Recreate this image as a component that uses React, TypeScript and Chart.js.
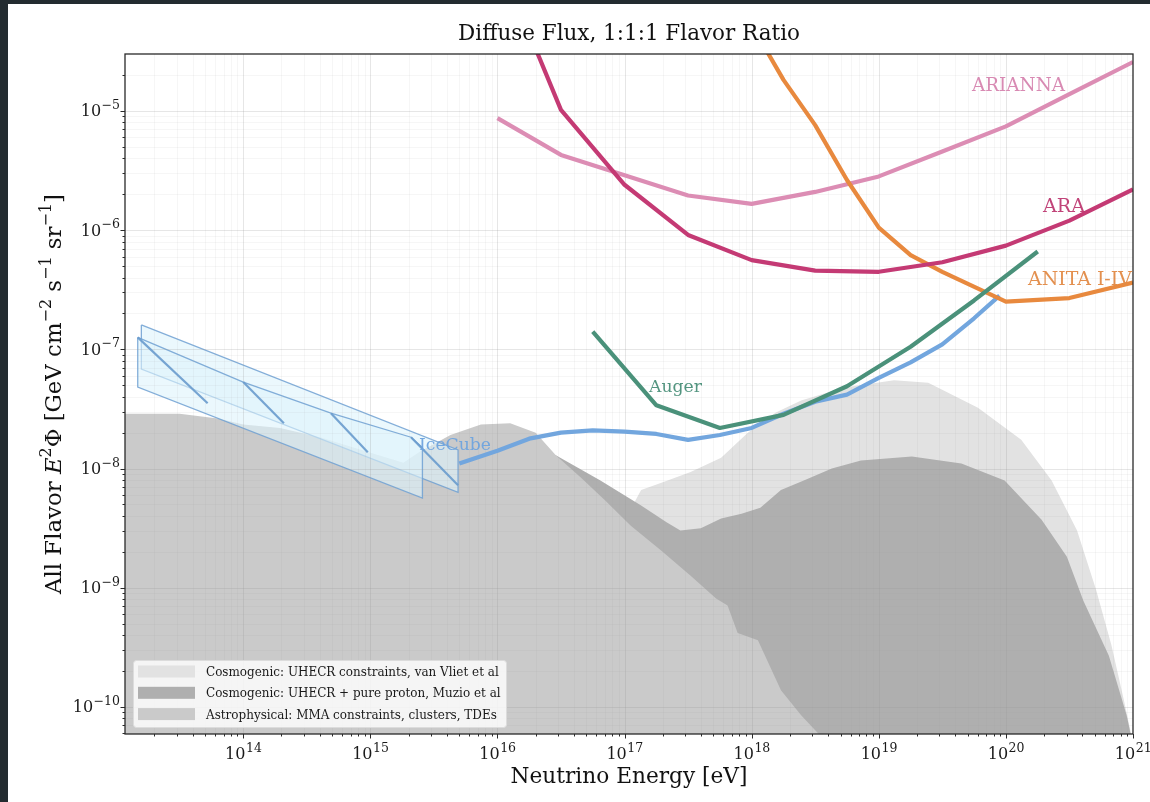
import React, { useEffect, useRef } from "react";
import { Chart, registerables } from "chart.js";

Chart.register(...registerables);

// ---------------- axes ----------------
const xRange = [1.175e13, 1e21];
const yRange = [5.93e-11, 3.0e-5];
const xTickExponents = [14, 15, 16, 17, 18, 19, 20, 21];
const yTickExponents = [-10, -9, -8, -7, -6, -5];
const xGridDecades = [13, 14, 15, 16, 17, 18, 19, 20, 21];
const yGridDecades = [-11, -10, -9, -8, -7, -6, -5];
const minorMultipliers = [2, 3, 4, 5, 6, 7, 8, 9];

// ---------------- texts ----------------
const titleText = "Diffuse Flux, 1:1:1 Flavor Ratio";
const xAxisTitle = "Neutrino Energy [eV]";
const legendLabels = [
  "Cosmogenic: UHECR constraints, van Vliet et al",
  "Cosmogenic: UHECR + pure proton, Muzio et al",
  "Astrophysical: MMA constraints, clusters, TDEs",
];

// ---------------- shaded model regions ----------------
const lightE = [1.2e17, 1.35e17, 1.95e17, 3.31e17, 5.75e17, 9.33e17, 1.55e18, 2.45e18, 5.37e18, 1.32e19, 2.45e19, 6.03e19, 1.32e20, 2.29e20, 3.63e20, 5.13e20, 6.76e20, 8.51e20, 1e21];
const lightF = [5.25e-9, 6.61e-9, 7.59e-9, 9.33e-9, 1.23e-8, 2.0e-8, 2.95e-8, 3.72e-8, 4.79e-8, 5.5e-8, 5.25e-8, 3.24e-8, 1.74e-8, 7.94e-9, 3.02e-9, 9.55e-10, 3.31e-10, 1.12e-10, 5.01e-11];

const darkE = [2.0e16, 2.88e16, 6.46e16, 1.35e17, 2.14e17, 2.75e17, 3.98e17, 5.75e17, 8.32e17, 1.17e18, 1.7e18, 2.57e18, 4.27e18, 7.24e18, 1.82e19, 4.47e19, 9.77e19, 1.91e20, 3.02e20, 4.07e20, 6.46e20, 8.91e20, 1e21];
const darkF = [1.41e-8, 1.29e-8, 7.94e-9, 4.9e-9, 3.55e-9, 3.02e-9, 3.16e-9, 3.8e-9, 4.17e-9, 4.68e-9, 6.61e-9, 7.94e-9, 1.0e-8, 1.17e-8, 1.26e-8, 1.1e-8, 7.94e-9, 3.72e-9, 1.82e-9, 7.76e-10, 2.69e-10, 8.51e-11, 4.79e-11];

const astroE = [1e13, 3.16e13, 6.31e13, 1e14, 1.95e14, 4.07e14, 8.91e14, 1.82e15, 2.45e15, 4.27e15, 7.41e15, 1.26e16, 2.0e16, 2.88e16, 4.57e16, 7.08e16, 1.12e17, 1.95e17, 3.31e17, 5.25e17, 6.46e17, 7.76e17, 1.12e18, 1.7e18, 2.45e18, 3.39e18, 3.98e18];
const astroF = [2.88e-8, 2.88e-8, 2.63e-8, 2.34e-8, 2.19e-8, 1.82e-8, 1.41e-8, 1.12e-8, 1.38e-8, 1.91e-8, 2.34e-8, 2.4e-8, 2.0e-8, 1.29e-8, 8.32e-9, 5.37e-9, 3.31e-9, 2.04e-9, 1.26e-9, 8.13e-10, 7.08e-10, 4.17e-10, 3.63e-10, 1.38e-10, 8.51e-11, 5.89e-11, 2.51e-11];

// ---------------- IceCube measured bands ----------------
const bandAE = [1.58e13, 4.9e15, 4.9e15, 1.58e13, 1.58e13];
const bandAF = [1.6e-7, 1.43e-8, 6.32e-9, 6.82e-8, 1.6e-7];
const bandBE = [1.48e13, 1e14, 4.9e14, 2.09e15, 2.57e15, 2.57e15, 1.48e13, 1.48e13];
const bandBF = [1.26e-7, 5.31e-8, 2.91e-8, 1.83e-8, 1.5e-8, 5.64e-9, 4.82e-8, 1.26e-7];
const hatchStartE = [1.48e13, 1e14, 4.9e14, 2.09e15];
const hatchStartF = [1.26e-7, 5.31e-8, 2.91e-8, 1.83e-8];
const hatchEndE = [5.25e13, 2.09e14, 9.55e14, 4.9e15];
const hatchEndF = [3.53e-8, 2.4e-8, 1.37e-8, 7.24e-9];

// ---------------- sensitivity curves ----------------
const ariannaE = [1e16, 3.16e16, 1e17, 3.16e17, 1e18, 3.16e18, 1e19, 3.16e19, 1e20, 3.16e20, 1e21];
const ariannaF = [8.7e-6, 4.27e-6, 2.88e-6, 1.95e-6, 1.66e-6, 2.09e-6, 2.82e-6, 4.57e-6, 7.41e-6, 1.38e-5, 2.57e-5];

const araE = [1.78e16, 3.16e16, 1e17, 3.16e17, 1e18, 3.16e18, 1e19, 3.16e19, 1e20, 3.16e20, 1e21];
const araF = [4.47e-5, 1.02e-5, 2.4e-6, 9.1e-7, 5.6e-7, 4.57e-7, 4.47e-7, 5.37e-7, 7.41e-7, 1.2e-6, 2.19e-6];

const anitaE = [1e18, 1.78e18, 3.16e18, 5.62e18, 1e19, 1.78e19, 3.16e19, 1e20, 3.16e20, 1e21];
const anitaF = [5.25e-5, 1.82e-5, 7.59e-6, 2.63e-6, 1.05e-6, 6.17e-7, 4.47e-7, 2.51e-7, 2.69e-7, 3.63e-7];

const augerE = [5.62e16, 1.78e17, 5.62e17, 1.78e18, 5.62e18, 1.78e19, 5.62e19, 1.78e20];
const augerF = [1.41e-7, 3.39e-8, 2.19e-8, 2.82e-8, 4.9e-8, 1.05e-7, 2.57e-7, 6.61e-7];

const icecubeE = [5.01e15, 1e16, 1.78e16, 3.16e16, 5.62e16, 1e17, 1.78e17, 3.16e17, 5.62e17, 1e18, 1.78e18, 3.16e18, 5.62e18, 1e19, 1.78e19, 3.16e19, 5.62e19, 8.91e19];
const icecubeF = [1.1e-8, 1.41e-8, 1.78e-8, 2.0e-8, 2.09e-8, 2.04e-8, 1.95e-8, 1.74e-8, 1.91e-8, 2.19e-8, 2.88e-8, 3.63e-8, 4.17e-8, 5.75e-8, 7.76e-8, 1.1e-7, 1.82e-7, 2.82e-7];

// ---------------- styling ----------------
const FONT = '"DejaVu Serif", "Liberation Serif", serif';
const C_LIGHT = "#e2e2e2";
const C_DARK = "#afafaf";
const C_ASTRO = "#cacaca";
const C_ARIANNA = "#dc8db4";
const C_ARA = "#c43a74";
const C_ANITA = "#e8893e";
const C_AUGER = "#4a917a";
const C_ICECUBE = "#72a6de";
const BAND_FILL = "rgba(222,243,252,0.6)";
const BAND_EDGE = "rgba(110,160,210,0.85)";
const HATCH_EDGE = "rgba(105,155,205,0.9)";

const pts = (xs: number[], ys: number[]) => xs.map((x, i) => ({ x, y: ys[i] }));

type Run = { t: string; italic?: boolean; sup?: boolean };

function setFont(ctx: CanvasRenderingContext2D, size: number, italic = false) {
  ctx.font = `${italic ? "italic " : ""}${size}px ${FONT}`;
}
function fitSize(ctx: CanvasRenderingContext2D, text: string, width: number) {
  setFont(ctx, 100);
  return (100 * width) / ctx.measureText(text).width;
}
function runsWidth(ctx: CanvasRenderingContext2D, runs: Run[], size: number) {
  let w = 0;
  for (const r of runs) {
    setFont(ctx, r.sup ? size * 0.7 : size, r.italic);
    w += ctx.measureText(r.t).width;
  }
  return w;
}
function drawRuns(ctx: CanvasRenderingContext2D, runs: Run[], x: number, y: number, size: number) {
  let cx = x;
  for (const r of runs) {
    const s = r.sup ? size * 0.7 : size;
    setFont(ctx, s, r.italic);
    ctx.fillText(r.t, cx, r.sup ? y - size * 0.42 : y);
    cx += ctx.measureText(r.t).width;
  }
}

const yLabelRuns: Run[] = [
  { t: "All Flavor " },
  { t: "E", italic: true },
  { t: "2", sup: true },
  { t: "\u03A6 [GeV cm" },
  { t: "\u22122", sup: true },
  { t: " s" },
  { t: "\u22121", sup: true },
  { t: " sr" },
  { t: "\u22121", sup: true },
  { t: "]" },
];

function drawGrid(chart: any) {
  const { ctx, chartArea: a, scales } = chart;
  const xs = scales.x;
  const ys = scales.y;
  ctx.save();
  ctx.lineWidth = 1;
  const major = "rgba(150,150,150,0.24)";
  const minor = "rgba(150,150,150,0.09)";
  for (const d of xGridDecades) {
    for (const m of [1, ...minorMultipliers]) {
      const v = m * Math.pow(10, d);
      if (v <= xRange[0] || v >= xRange[1]) continue;
      const p = Math.round(xs.getPixelForValue(v)) + 0.5;
      ctx.strokeStyle = m === 1 ? major : minor;
      ctx.beginPath();
      ctx.moveTo(p, a.top);
      ctx.lineTo(p, a.bottom);
      ctx.stroke();
    }
  }
  for (const d of yGridDecades) {
    for (const m of [1, ...minorMultipliers]) {
      const v = m * Math.pow(10, d);
      if (v <= yRange[0] || v >= yRange[1]) continue;
      const p = Math.round(ys.getPixelForValue(v)) + 0.5;
      ctx.strokeStyle = m === 1 ? major : minor;
      ctx.beginPath();
      ctx.moveTo(a.left, p);
      ctx.lineTo(a.right, p);
      ctx.stroke();
    }
  }
  ctx.restore();
}

function drawDecor(chart: any) {
  const { ctx, chartArea: a, scales } = chart;
  const xs = scales.x;
  const ys = scales.y;
  ctx.save();

  // frame
  ctx.strokeStyle = "#2a2a2a";
  ctx.lineWidth = 1.3;
  ctx.strokeRect(a.left, a.top, a.right - a.left, a.bottom - a.top);

  // ticks
  ctx.lineWidth = 1;
  ctx.strokeStyle = "#2a2a2a";
  for (const d of xGridDecades) {
    for (const m of [1, ...minorMultipliers]) {
      const v = m * Math.pow(10, d);
      if (v < xRange[0] || v > xRange[1] * 1.0001) continue;
      const p = Math.round(xs.getPixelForValue(v)) + 0.5;
      ctx.beginPath();
      ctx.moveTo(p, a.bottom);
      ctx.lineTo(p, a.bottom + (m === 1 ? 4.5 : 2.5));
      ctx.stroke();
    }
  }
  for (const d of yGridDecades) {
    for (const m of [1, ...minorMultipliers]) {
      const v = m * Math.pow(10, d);
      if (v < yRange[0] || v > yRange[1]) continue;
      const p = Math.round(ys.getPixelForValue(v)) + 0.5;
      ctx.beginPath();
      ctx.moveTo(a.left, p);
      ctx.lineTo(a.left - (m === 1 ? 4.5 : 2.5), p);
      ctx.stroke();
    }
  }

  // tick labels
  ctx.fillStyle = "#1a1a1a";
  ctx.textBaseline = "alphabetic";
  ctx.textAlign = "left";
  const mainSize = 16;
  const supSize = 12.5;
  for (const e of xTickExponents) {
    const p = xs.getPixelForValue(Math.pow(10, e));
    setFont(ctx, mainSize);
    const w1 = ctx.measureText("10").width;
    setFont(ctx, supSize);
    const sup = String(e);
    const w2 = ctx.measureText(sup).width;
    const x0 = p - (w1 + w2) / 2;
    setFont(ctx, mainSize);
    ctx.fillText("10", x0, 759);
    setFont(ctx, supSize);
    ctx.fillText(sup, x0 + w1 + 0.5, 752);
  }
  for (const e of yTickExponents) {
    const p = ys.getPixelForValue(Math.pow(10, e));
    setFont(ctx, mainSize);
    const w1 = ctx.measureText("10").width;
    setFont(ctx, supSize);
    const sup = "\u2212" + String(Math.abs(e));
    const w2 = ctx.measureText(sup).width;
    const x0 = 120 - w1 - w2 - 0.5;
    setFont(ctx, mainSize);
    ctx.fillText("10", x0, p + 5.5);
    setFont(ctx, supSize);
    ctx.fillText(sup, x0 + w1 + 0.5, p - 2);
  }

  // title
  ctx.fillStyle = "#111";
  ctx.textAlign = "center";
  setFont(ctx, fitSize(ctx, titleText, 342));
  ctx.fillText(titleText, (a.left + a.right) / 2, 40);

  // x axis title
  setFont(ctx, fitSize(ctx, xAxisTitle, 237));
  ctx.fillText(xAxisTitle, (a.left + a.right) / 2, 783);

  // y axis title
  ctx.textAlign = "left";
  const w100 = runsWidth(ctx, yLabelRuns, 100);
  const ySize = (100 * 400) / w100;
  ctx.save();
  ctx.translate(61, (a.top + a.bottom) / 2);
  ctx.rotate(-Math.PI / 2);
  drawRuns(ctx, yLabelRuns, -200, 0, ySize);
  ctx.restore();

  // in-plot labels
  const labels = [
    { t: "ARIANNA", x: 972, y: 91, w: 93, c: "rgba(214,132,175,0.95)" },
    { t: "ARA", x: 1043, y: 212, w: 42, c: "rgba(190,58,114,0.95)" },
    { t: "ANITA I-IV", x: 1028, y: 285, w: 104, c: "rgba(226,138,70,0.95)" },
    { t: "Auger", x: 649, y: 392, w: 53, c: "rgba(74,143,121,0.95)" },
    { t: "IceCube", x: 419, y: 450, w: 72, c: "rgba(110,163,222,0.95)" },
  ];
  for (const l of labels) {
    ctx.fillStyle = l.c;
    setFont(ctx, fitSize(ctx, l.t, l.w));
    ctx.fillText(l.t, l.x, l.y);
  }

  // legend
  const lx = 133.5;
  const ly = 660.5;
  const lw = 373;
  const lh = 67;
  ctx.beginPath();
  ctx.roundRect(lx, ly, lw, lh, 3);
  ctx.fillStyle = "rgba(255,255,255,0.8)";
  ctx.fill();
  ctx.strokeStyle = "#dcdcdc";
  ctx.lineWidth = 1;
  ctx.stroke();
  const legendColors = [C_LIGHT, C_DARK, C_ASTRO];
  const lSize = fitSize(ctx, legendLabels[0], 293);
  legendLabels.forEach((t, i) => {
    const cy = 671.5 + i * 21.3;
    ctx.fillStyle = legendColors[i];
    ctx.fillRect(138, cy - 6, 57, 12);
    ctx.fillStyle = "#1a1a1a";
    setFont(ctx, lSize);
    ctx.fillText(t, 206, cy + 4.5);
  });

  ctx.restore();
}

const decorPlugin = {
  id: "decor",
  afterDatasetDraw(chart: any, args: any) {
    const ds = chart.data.datasets[args.index];
    if (ds && ds.label === "bandB") drawGrid(chart);
  },
  afterDraw(chart: any) {
    drawDecor(chart);
  },
};

export default function App() {
  const ref = useRef<HTMLCanvasElement | null>(null);

  useEffect(() => {
    const canvas = ref.current;
    if (!canvas) return;

    const fillSet = (label: string, xs: number[], ys: number[], color: string, order: number) => ({
      label,
      data: pts(xs, ys),
      fill: "start",
      backgroundColor: color,
      borderWidth: 0,
      borderColor: "rgba(0,0,0,0)",
      pointRadius: 0,
      order,
      clip: 0,
    });
    const bandSet = (label: string, xs: number[], ys: number[], order: number) => ({
      label,
      data: pts(xs, ys),
      fill: "shape",
      backgroundColor: BAND_FILL,
      borderColor: BAND_EDGE,
      borderWidth: 1.3,
      pointRadius: 0,
      order,
      clip: 0,
    });
    const lineSet = (label: string, xs: number[], ys: number[], color: string, order: number) => ({
      label,
      data: pts(xs, ys),
      fill: false,
      borderColor: color,
      backgroundColor: color,
      borderWidth: 4.2,
      borderJoinStyle: "round",
      borderCapStyle: "butt",
      pointRadius: 0,
      order,
      clip: 0,
    });

    const hatchSets = hatchStartE.map((x0, i) => ({
      label: "hatch" + i,
      data: [
        { x: x0, y: hatchStartF[i] },
        { x: hatchEndE[i], y: hatchEndF[i] },
      ],
      fill: false,
      borderColor: HATCH_EDGE,
      borderWidth: 2.2,
      pointRadius: 0,
      order: 15,
      clip: 0,
    }));

    const datasets: any[] = [
      fillSet("vanVliet", lightE, lightF, C_LIGHT, 20),
      fillSet("Muzio", darkE, darkF, C_DARK, 19),
      fillSet("astro", astroE, astroF, C_ASTRO, 18),
      bandSet("bandA", bandAE, bandAF, 17),
      bandSet("bandB", bandBE, bandBF, 16),
      ...hatchSets,
      lineSet("IceCube", icecubeE, icecubeF, C_ICECUBE, 6),
      lineSet("ARIANNA", ariannaE, ariannaF, C_ARIANNA, 5),
      lineSet("ANITA", anitaE, anitaF, C_ANITA, 4),
      lineSet("ARA", araE, araF, C_ARA, 3),
      lineSet("Auger", augerE, augerF, C_AUGER, 2),
    ];

    const chart = new Chart(canvas, {
      type: "line",
      data: { datasets },
      options: {
        animation: false,
        responsive: false,
        devicePixelRatio: 1,
        events: [],
        layout: { padding: { left: 125, top: 54, right: 17, bottom: 68 } },
        elements: { line: { tension: 0 }, point: { radius: 0 } },
        scales: {
          x: { type: "logarithmic", min: xRange[0], max: xRange[1], display: false },
          y: { type: "logarithmic", min: yRange[0], max: yRange[1], display: false },
        },
        plugins: {
          legend: { display: false },
          title: { display: false },
          tooltip: { enabled: false },
        },
      } as any,
      plugins: [decorPlugin],
    });
    return () => chart.destroy();
  }, []);

  return (
    <div style={{ position: "fixed", left: 0, top: 0, width: 1150, height: 802, background: "#232b30", overflow: "hidden" }}>
      <div style={{ position: "absolute", left: 8, top: 4, right: 0, bottom: 0, background: "#ffffff" }} />
      <canvas
        ref={ref}
        width={1150}
        height={802}
        style={{ position: "absolute", left: 0, top: 0, width: 1150, height: 802 }}
      />
    </div>
  );
}
